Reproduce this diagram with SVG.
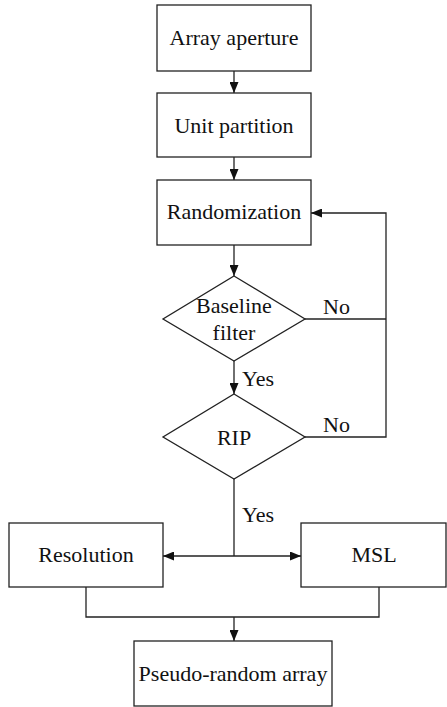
<svg xmlns="http://www.w3.org/2000/svg" width="447" height="707" viewBox="0 0 447 707">
<defs>
<marker id="ah" viewBox="0 0 11 9" refX="11" refY="4.5" markerWidth="11" markerHeight="9" markerUnits="userSpaceOnUse" orient="auto">
<path d="M0,0 L11,4.5 L0,9 Z" fill="#111"/>
</marker>
<style>
.box{fill:#fff;stroke:#222;stroke-width:1.3}
.ln{fill:none;stroke:#222;stroke-width:1.3}
.t{font-family:"Liberation Serif","Times New Roman",serif;font-size:22px;fill:#111;text-anchor:middle}
.l{font-family:"Liberation Serif","Times New Roman",serif;font-size:22px;fill:#111}
</style>
</defs>
<rect width="447" height="707" fill="#fff"/>
<g id="connectors">
<line class="ln" x1="234" y1="71" x2="234" y2="93" marker-end="url(#ah)"/>
<line class="ln" x1="234" y1="157" x2="234" y2="180" marker-end="url(#ah)"/>
<line class="ln" x1="234" y1="245" x2="234" y2="276" marker-end="url(#ah)"/>
<line class="ln" x1="234" y1="361" x2="234" y2="394" marker-end="url(#ah)"/>
<polyline class="ln" points="305,319 386,319"/>
<polyline class="ln" points="305,437 386,437 386,213 311,213" marker-end="url(#ah)"/>
<line class="ln" x1="234" y1="479" x2="234" y2="556"/>
<line class="ln" x1="234" y1="556" x2="163" y2="556" marker-end="url(#ah)"/>
<line class="ln" x1="234" y1="556" x2="301" y2="556" marker-end="url(#ah)"/>
<polyline class="ln" points="86,587 86,617 379,617 379,587"/>
<line class="ln" x1="234" y1="617" x2="234" y2="641" marker-end="url(#ah)"/>
<text class="l" x="323" y="314">No</text>
<text class="l" x="323" y="432">No</text>
<text class="l" x="242" y="386">Yes</text>
<text class="l" x="242" y="522">Yes</text>
</g>
<g id="array-aperture">
<rect class="box" x="157" y="5" width="154" height="66"/>
<text class="t" x="234" y="45">Array aperture</text>
</g>
<g id="unit-partition">
<rect class="box" x="157" y="93" width="154" height="64"/>
<text class="t" x="234" y="133">Unit partition</text>
</g>
<g id="randomization">
<rect class="box" x="157" y="180" width="154" height="65"/>
<text class="t" x="234" y="219">Randomization</text>
</g>
<g id="baseline-filter">
<polygon class="box" points="234,276 305,319 234,361 163,319"/>
<text class="t" x="234" y="313">Baseline</text>
<text class="t" x="234" y="340">filter</text>
</g>
<g id="rip">
<polygon class="box" points="234,394 305,437 234,479 163,437"/>
<text class="t" x="234" y="445">RIP</text>
</g>
<g id="resolution">
<rect class="box" x="9" y="523" width="154" height="64"/>
<text class="t" x="86" y="562">Resolution</text>
</g>
<g id="msl">
<rect class="box" x="301" y="523" width="145" height="64"/>
<text class="t" x="374" y="562">MSL</text>
</g>
<g id="pseudo-random-array">
<rect class="box" x="134" y="641" width="198" height="65"/>
<text class="t" x="233" y="681">Pseudo-random array</text>
</g>
</svg>
